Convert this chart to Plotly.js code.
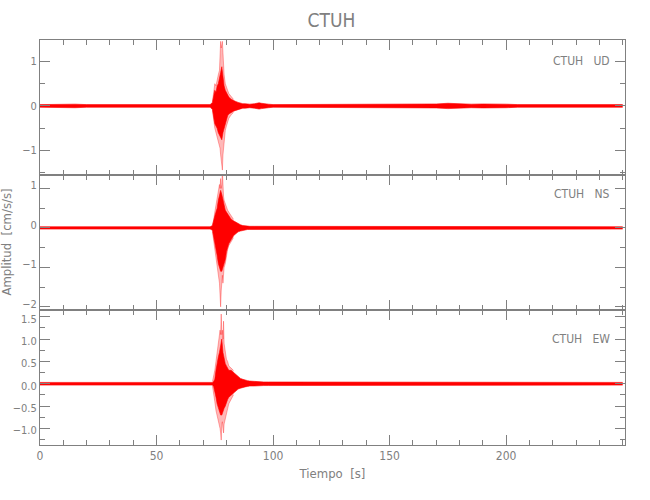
<!DOCTYPE html>
<html><head><meta charset="utf-8">
<script src="https://cdn.plot.ly/plotly-3.0.1.min.js"></script>
<style>html,body{margin:0;padding:0;background:#fff;}#plot{width:650px;height:500px;}</style>
</head><body><div id="plot"></div>
<script>
// time axis of the envelope band (s)
const tBand = [0,5,10,15,20,25,30,35,40,45,50,55,60,65,70,
  73,
  74,74.5,75,75.5,76,76.5,77,77.5,78,78.5,79,79.5,80,80.5,81,
  82,83,84,85,86,87,88,89,90,
  92,94,95,96,98,100,
  105,110,115,120,125,130,135,140,145,150,
  155,160,165,170,175,180,185,190,195,200,
  205,210,215,220,225,230,235,240,245,250];

// UD component: dense band envelope
const udUp = [0.03,0.035,0.03,0.04,0.03,0.03,0.035,0.03,0.03,0.03,0.03,0.03,0.03,0.03,0.03,
  0.03,
  0.08,0.2,0.35,0.3,0.45,0.5,0.6,0.75,0.88,0.6,0.45,0.35,0.3,0.25,0.2,
  0.15,0.12,0.1,0.08,0.06,0.05,0.05,0.04,0.04,
  0.05,0.07,0.06,0.05,0.04,0.03,
  0.03,0.03,0.03,0.03,0.03,0.03,0.03,0.03,0.03,0.03,
  0.03,0.03,0.035,0.045,0.06,0.045,0.04,0.045,0.05,0.04,
  0.03,0.03,0.03,0.03,0.03,0.03,0.03,0.03,0.03,0.03];
const udLo = [-0.03,-0.035,-0.03,-0.04,-0.03,-0.03,-0.035,-0.03,-0.03,-0.03,-0.03,-0.03,-0.03,-0.03,-0.03,
  -0.03,
  -0.08,-0.25,-0.4,-0.45,-0.5,-0.6,-0.65,-0.7,-0.76,-0.6,-0.5,-0.4,-0.3,-0.22,-0.18,
  -0.14,-0.12,-0.1,-0.08,-0.06,-0.05,-0.05,-0.04,-0.04,
  -0.05,-0.07,-0.06,-0.05,-0.04,-0.03,
  -0.03,-0.03,-0.03,-0.03,-0.03,-0.03,-0.03,-0.03,-0.03,-0.03,
  -0.03,-0.03,-0.035,-0.045,-0.06,-0.045,-0.04,-0.045,-0.05,-0.04,
  -0.03,-0.03,-0.03,-0.03,-0.03,-0.03,-0.03,-0.03,-0.03,-0.03];

// NS component
const nsUp = [0.03,0.03,0.035,0.03,0.03,0.03,0.03,0.035,0.03,0.03,0.03,0.03,0.03,0.03,0.03,
  0.03,
  0.06,0.15,0.3,0.4,0.5,0.7,0.8,0.95,0.85,0.7,0.55,0.45,0.4,0.35,0.3,
  0.22,0.18,0.14,0.1,0.08,0.06,0.05,0.04,0.04,
  0.04,0.04,0.04,0.04,0.03,0.03,
  0.03,0.03,0.03,0.03,0.03,0.03,0.03,0.03,0.03,0.03,
  0.03,0.03,0.03,0.035,0.04,0.035,0.03,0.03,0.03,0.03,
  0.03,0.03,0.03,0.03,0.03,0.03,0.03,0.03,0.03,0.03];
const nsLo = [-0.03,-0.03,-0.035,-0.03,-0.03,-0.03,-0.03,-0.035,-0.03,-0.03,-0.03,-0.03,-0.03,-0.03,-0.03,
  -0.03,
  -0.06,-0.2,-0.35,-0.5,-0.7,-0.9,-1.0,-1.1,-1.1,-1.0,-0.95,-0.8,-0.6,-0.5,-0.4,
  -0.3,-0.2,-0.15,-0.1,-0.08,-0.06,-0.05,-0.04,-0.04,
  -0.04,-0.04,-0.04,-0.04,-0.03,-0.03,
  -0.03,-0.03,-0.03,-0.03,-0.03,-0.03,-0.03,-0.03,-0.03,-0.03,
  -0.03,-0.03,-0.03,-0.035,-0.04,-0.035,-0.03,-0.03,-0.03,-0.03,
  -0.03,-0.03,-0.03,-0.03,-0.03,-0.03,-0.03,-0.03,-0.03,-0.03];

// EW component
const ewUp = [0.03,0.03,0.03,0.035,0.03,0.03,0.03,0.03,0.03,0.03,0.03,0.03,0.03,0.03,0.03,
  0.03,
  0.03,0.05,0.1,0.3,0.5,0.6,0.7,0.9,1.0,0.7,0.55,0.45,0.4,0.35,0.3,
  0.3,0.25,0.2,0.15,0.12,0.1,0.08,0.07,0.06,
  0.05,0.04,0.04,0.04,0.04,0.04,
  0.03,0.03,0.03,0.03,0.03,0.03,0.03,0.03,0.03,0.03,
  0.03,0.03,0.03,0.035,0.045,0.035,0.03,0.03,0.035,0.03,
  0.03,0.03,0.03,0.03,0.03,0.03,0.03,0.03,0.03,0.03];
const ewLo = [-0.03,-0.03,-0.03,-0.035,-0.03,-0.03,-0.03,-0.03,-0.03,-0.03,-0.03,-0.03,-0.03,-0.03,-0.03,
  -0.03,
  -0.03,-0.06,-0.15,-0.3,-0.45,-0.55,-0.6,-0.7,-0.7,-0.6,-0.55,-0.5,-0.4,-0.35,-0.3,
  -0.25,-0.2,-0.15,-0.12,-0.1,-0.08,-0.07,-0.06,-0.05,
  -0.05,-0.04,-0.04,-0.04,-0.04,-0.04,
  -0.03,-0.03,-0.03,-0.03,-0.03,-0.03,-0.03,-0.03,-0.03,-0.03,
  -0.03,-0.03,-0.03,-0.035,-0.045,-0.035,-0.03,-0.03,-0.035,-0.03,
  -0.03,-0.03,-0.03,-0.03,-0.03,-0.03,-0.03,-0.03,-0.03,-0.03];

// peak envelopes in the main burst
const tPeak = [74,74.5,75,75.5,76,76.5,77,77.25,77.5,77.75,78,78.25,78.5,78.75,79,79.5,80,80.5,81,82,83];
const udPeakUp = [0.1,0.3,0.5,0.45,0.6,0.7,0.8,1.0,1.45,1.3,1.4,1.45,1.2,0.9,0.7,0.5,0.4,0.35,0.28,0.2,0.15];
const udPeakLo = [-0.1,-0.35,-0.5,-0.6,-0.7,-0.75,-0.85,-0.95,-1.1,-1.2,-1.3,-1.44,-1.1,-0.9,-0.75,-0.55,-0.45,-0.35,-0.28,-0.2,-0.15];
const nsPeakUp = [0.08,0.2,0.4,0.6,0.8,1.0,1.1,1.0,1.25,1.0,1.1,1.45,0.9,0.8,0.7,0.6,0.5,0.45,0.4,0.3,0.22];
const nsPeakLo = [-0.1,-0.3,-0.5,-0.7,-0.9,-1.1,-1.4,-1.7,-2.0,-1.6,-1.3,-1.2,-1.4,-1.1,-1.0,-0.9,-0.7,-0.55,-0.45,-0.35,-0.25];
const ewPeakUp = [0.05,0.15,0.3,0.5,0.7,0.8,1.0,1.2,1.1,1.56,1.1,1.2,1.0,1.4,0.9,0.7,0.55,0.5,0.4,0.35,0.3];
const ewPeakLo = [-0.05,-0.2,-0.4,-0.6,-0.7,-0.8,-0.9,-1.0,-1.1,-1.26,-0.9,-0.85,-1.0,-1.1,-0.9,-0.8,-0.7,-0.55,-0.45,-0.35,-0.25];

const panelLabels = ['CTUH   UD','CTUH   NS','CTUH   EW'];
const xTickVals = [0,50,100,150,200];

const FONT = '"DejaVu Sans Condensed","Liberation Sans Narrow","Liberation Sans",sans-serif';
const GRAY = '#808080';
const PINK_LINE = 'rgba(255,0,0,0.45)';
const PINK_FILL = 'rgba(255,0,0,0.28)';
const RED = '#ff0000';

function panelTraces(xa, ya, pu, pl, bu, bl) {
  return [
    {x: tPeak, y: pu, xaxis: xa, yaxis: ya, mode: 'lines', line: {color: PINK_LINE, width: 0.7}, hoverinfo: 'skip'},
    {x: tPeak, y: pl, xaxis: xa, yaxis: ya, mode: 'lines', fill: 'tonexty', fillcolor: PINK_FILL, line: {color: PINK_LINE, width: 0.7}, hoverinfo: 'skip'},
    {x: tBand, y: bu, xaxis: xa, yaxis: ya, mode: 'lines', line: {color: RED, width: 0.6}, hoverinfo: 'skip'},
    {x: tBand, y: bl, xaxis: xa, yaxis: ya, mode: 'lines', fill: 'tonexty', fillcolor: RED, line: {color: RED, width: 0.6}, hoverinfo: 'skip'}
  ];
}

const data = [].concat(
  panelTraces('x3', 'y3', udPeakUp, udPeakLo, udUp, udLo),
  panelTraces('x2', 'y2', nsPeakUp, nsPeakLo, nsUp, nsLo),
  panelTraces('x', 'y', ewPeakUp, ewPeakLo, ewUp, ewLo)
);

function xax(anchor, labels) {
  const a = {
    anchor: anchor, range: [0, 251], tickvals: xTickVals, showticklabels: labels,
    ticks: 'inside', ticklen: 10, tickcolor: GRAY, tickwidth: 1,
    minor: {dtick: 10, ticks: 'inside', ticklen: 5, tickcolor: GRAY},
    showline: true, linecolor: GRAY, linewidth: 1, mirror: 'ticks',
    showgrid: false, zeroline: false,
    tickfont: {family: FONT, size: 12, color: GRAY}
  };
  if (anchor !== 'y') a.matches = 'x';
  return a;
}
function yax(domain, range, dtick, fmt, shift) {
  return {
    domain: domain, range: range, dtick: dtick, tick0: 0, tickformat: fmt,
    ticks: 'inside', ticklen: 10, tickcolor: GRAY, tickwidth: 1,
    minor: {dtick: dtick / 2, ticks: 'inside', ticklen: 5, tickcolor: GRAY},
    showline: true, linecolor: GRAY, linewidth: 1, mirror: 'ticks',
    showgrid: false, zeroline: false, ticklabelshift: shift,
    tickfont: {family: FONT, size: 11, color: GRAY}
  };
}

const layout = {
  width: 650, height: 500,
  margin: {l: 40, r: 25, t: 40, b: 55},
  paper_bgcolor: '#fff', plot_bgcolor: '#fff',
  showlegend: false,
  title: {text: 'CTUH', x: 0.51, xanchor: 'center', y: 0.96, yanchor: 'middle',
          font: {family: FONT, size: 19, color: GRAY}},
  xaxis: Object.assign(xax('y', true), {title: {text: 'Tiempo  [s]', font: {family: FONT, size: 13, color: GRAY}, standoff: 6}}),
  xaxis2: xax('y2', false),
  xaxis3: xax('y3', false),
  yaxis: yax([0, 1/3], [-1.37, 1.65], 0.5, '.1f', 2),
  yaxis2: yax([1/3, 2/3], [-2.08, 1.34], 1, 'd', -3),
  yaxis3: yax([2/3, 1], [-1.55, 1.48], 1, 'd', 0),
  annotations: [
    {text: panelLabels[0], xref: 'paper', yref: 'y3', x: 0.978, y: 1, xanchor: 'right', yanchor: 'middle', showarrow: false, font: {family: FONT, size: 12, color: GRAY}},
    {text: panelLabels[1], xref: 'paper', yref: 'y2', x: 0.978, y: 0.85, xanchor: 'right', yanchor: 'middle', showarrow: false, font: {family: FONT, size: 12, color: GRAY}},
    {text: panelLabels[2], xref: 'paper', yref: 'y', x: 0.978, y: 1.0, xanchor: 'right', yanchor: 'middle', showarrow: false, font: {family: FONT, size: 12, color: GRAY}},
    {text: 'Amplitud  [cm/s/s]', xref: 'paper', yref: 'paper', x: -0.058, y: 0.5, xanchor: 'center', yanchor: 'middle', textangle: -90, showarrow: false, font: {family: FONT, size: 13, color: GRAY}}
  ]
};

Plotly.newPlot('plot', data, layout, {staticPlot: true});
</script>
</body></html>
